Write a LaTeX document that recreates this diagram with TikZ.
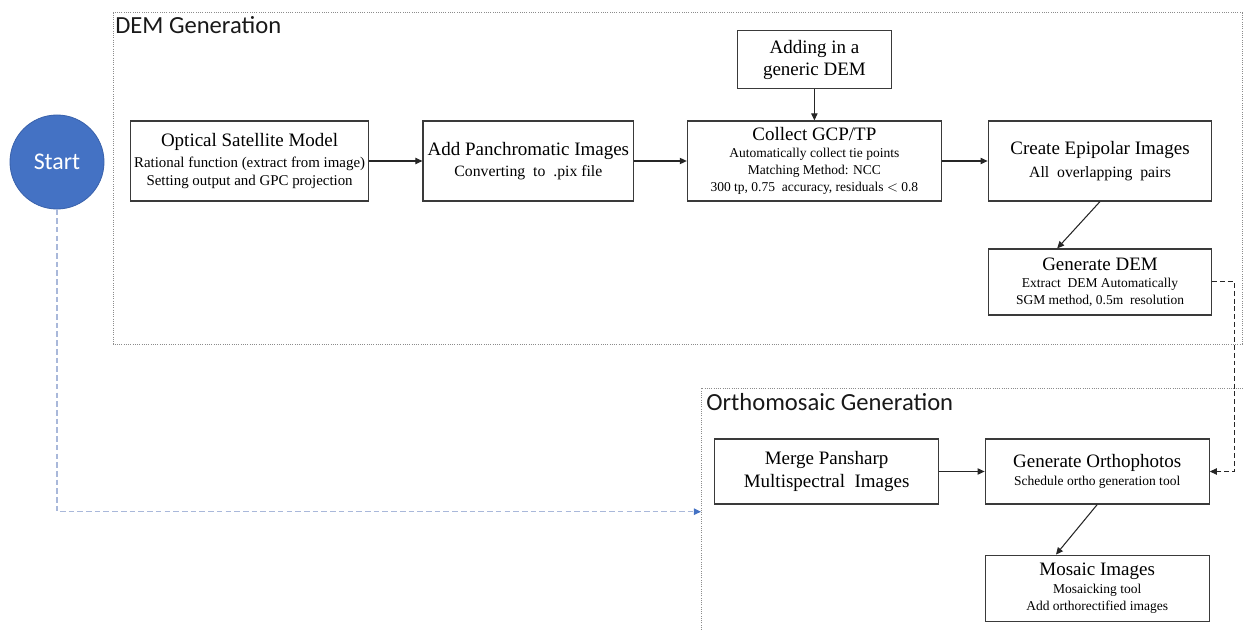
\documentclass[tikz,border=0pt]{standalone}
\usepackage{fontspec}
\setmainfont{Liberation Serif}
\newfontfamily\calfont{Carlito}
\usetikzlibrary{positioning}
\usetikzlibrary{arrows.meta}
\definecolor{startblue}{HTML}{4472C4}
\definecolor{startedge}{HTML}{3A62AC}
\definecolor{linkblue}{HTML}{A9B8DA}
\definecolor{framegray}{HTML}{8C8C8C}
\definecolor{boxline}{HTML}{3A3A3A}
\newcommand{\boxttl}{\fontsize{13.5}{16}\selectfont}
\newcommand{\boxsub}{\fontsize{10.6}{13}\selectfont}
\newcommand{\boxmid}{\fontsize{11.2}{13}\selectfont}
\newcommand{\boxsmall}{\fontsize{9.6}{12}\selectfont}
\tikzset{
procbox/.style 2 args={draw=boxline, line width=0.8pt, fill=white,
	align=center, inner sep=1pt, minimum width=#1, minimum height=#2},
flow/.style={-{Triangle[length=5pt,width=4.5pt]}, line width=0.75pt, black!85},
dashflow/.style={flow, dash pattern=on 3.5pt off 2pt},
startflow/.style={-{Triangle[length=5pt,width=4.5pt,color=startblue]},
	linkblue, line width=1pt, dash pattern=on 4pt off 2.2pt},
stagebox/.style={draw=framegray, line width=0.6pt, densely dotted},
stagename/.style={anchor=west, inner sep=0pt, text=black!90,
	font=\calfont\fontsize{17.5}{20}\selectfont},
startnode/.style={circle, fill=startblue, draw=startedge, line width=0.6pt,
	minimum size=2.35cm, text=white, font=\calfont\fontsize{17}{20}\selectfont},
}
\begin{document}
\begin{tikzpicture}[x=0.025cm, y=-0.025cm, node distance=1.3cm]
\path[use as bounding box] (0,0) rectangle (1243,630);

% stages
\draw[stagebox] (113,12.7) rectangle (1242,344);
\draw[stagebox] (701.5,630) |- (1243,388);
\node[stagename] (demlabel) at (115,25) {DEM Generation};
\node[stagename] (orthlabel) at (706,401.7) {Orthomosaic Generation};

\node[startnode] (start) at (57,162) {Start};

% DEM generation
\node[procbox={5.95cm}{2cm}, font=\boxsub] (opt) at (249.6,161)
	{{\boxttl Optical Satellite Model}\\[1.5pt]Rational function (extract from image)\\Setting output and GPC projection};
\node[procbox={5.27cm}{2cm}, font=\boxmid, right=1.33cm of opt] (pan)
	{{\boxttl Add Panchromatic Images}\\[1.5pt]Converting~ to~ .pix file};
\node[procbox={6.35cm}{2cm}, font=\boxsmall, right=1.31cm of pan] (gcp)
	{{\boxttl Collect GCP/TP}\\Automatically collect tie points\\Matching Method: NCC\\300 tp, 0.75~ accuracy, residuals {$<$} 0.8};
\node[procbox={3.84cm}{1.45cm}, font=\boxttl, above=0.775cm of gcp] (generic)
	{Adding in a\\generic DEM};
\node[procbox={5.59cm}{2cm}, font=\boxmid, right=1.14cm of gcp] (epi)
	{{\boxttl Create Epipolar Images}\\[3pt]All~ overlapping~ pairs};
\node[procbox={5.58cm}{1.65cm}, font=\boxsmall, below=1.17cm of epi] (dem)
	{{\boxttl Generate DEM}\\Extract~ DEM Automatically\\SGM method, 0.5m~ resolution};

% orthomosaic generation
\node[procbox={5.59cm}{1.625cm}, font=\boxttl] (merge) at (826.6,471.5)
	{Merge Pansharp\\Multispectral~ Images};
\node[procbox={5.6cm}{1.625cm}, font=\boxsmall, right=1.14cm of merge] (ortho)
	{{\boxttl Generate Orthophotos}\\[1pt]Schedule ortho generation tool};
\node[procbox={5.6cm}{1.65cm}, font=\boxsmall, below=1.25cm of ortho] (mosaic)
	{{\boxttl Mosaic Images}\\[1pt]Mosaicking tool\\Add orthorectified images};

\coordinate (orthoin) at (701,511.7);

% links
\draw[flow] (opt) -- (pan);
\draw[flow] (pan) -- (gcp);
\draw[flow] (gcp) -- (epi);
\draw[flow] (generic) -- (gcp);
\draw[flow] (epi.south) -- ([xshift=-1.07cm]dem.north);
\draw[dashflow] (dem.east) -- ++(22,0) |- (ortho.east);
\draw[flow] (merge) -- (ortho);
\draw[flow] (ortho.south) -- ([xshift=-1.03cm]mosaic.north);
\draw[startflow] (start.south) |- (orthoin);
\end{tikzpicture}
\end{document}
